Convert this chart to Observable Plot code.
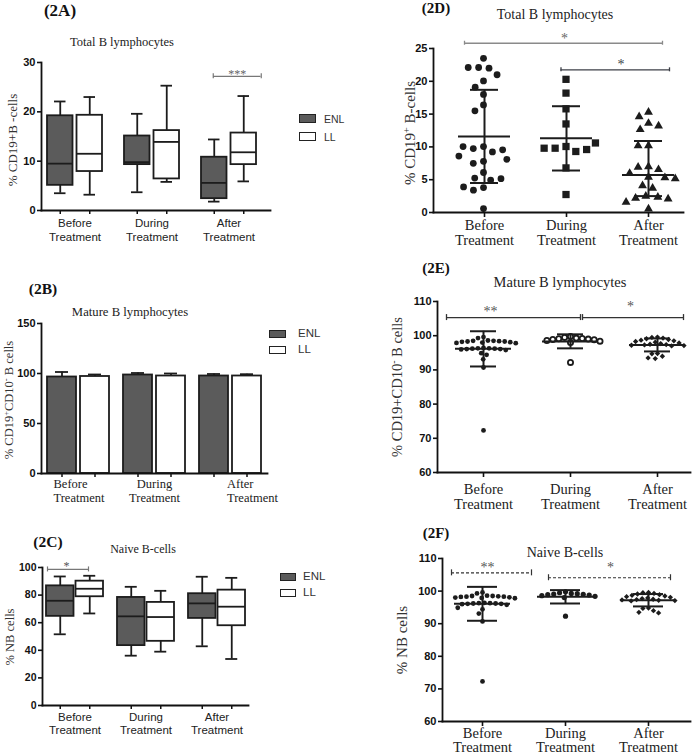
<!DOCTYPE html>
<html><head><meta charset="utf-8">
<script src="https://cdn.jsdelivr.net/npm/d3@7"></script>
<script src="https://cdn.jsdelivr.net/npm/@observablehq/plot@0.6"></script>
<style>
html,body{margin:0;padding:0;background:#fff;}
#root{position:relative;width:699px;height:754px;overflow:hidden;background:#fff;}
.lab{position:absolute;white-space:nowrap;transform:translate(-50%,-50%);line-height:1;color:#222;}
.rot{position:absolute;white-space:nowrap;transform:translate(-50%,-50%) rotate(-90deg);line-height:1;color:#333;}
.leg{position:absolute;white-space:nowrap;transform:translate(0,-50%);line-height:1;color:#333;}
.sw{position:absolute;box-sizing:border-box;border:1.6px solid #222;}
sup{font-size:0.68em;line-height:0;vertical-align:0.45em;}
</style></head><body><div id="root"></div>
<script>
// ---------------- DATA ----------------
const treatments = ["Before", "During", "After"];
const seriesNames = ["ENL", "LL"];
const boxGroup = ["Before", "Before", "During", "During", "After", "After"];
const boxSeries = ["ENL", "LL", "ENL", "LL", "ENL", "LL"];

// (2A) Total B lymphocytes, % CD19+ B cells (box: min, q1, median, q3, max)
const a_min = [3.5, 3.2, 3.7, 5.8, 1.8, 5.9];
const a_q1  = [5.1, 7.9, 9.3, 6.4, 2.4, 9.3];
const a_med = [9.5, 11.5, 9.8, 13.9, 5.6, 11.8];
const a_q3  = [19.2, 19.3, 15.1, 16.2, 10.8, 15.7];
const a_max = [22.1, 23.0, 19.6, 25.3, 14.4, 23.2];
const a_sigFrom = ["After"], a_sigTo = ["After"], a_sigY = [27.2], a_sigText = ["***"];

// (2B) Mature B lymphocytes, mean and SD
const b_mean = [96.5, 97.0, 98.5, 97.5, 97.5, 97.5];
const b_sd   = [5.0, 2.0, 2.0, 2.5, 2.0, 1.8];

// (2C) Naive B-cells, % NB cells (box)
const c_min = [51.6, 66.7, 36.1, 39.0, 42.9, 33.7];
const c_q1  = [64.6, 78.8, 43.4, 46.5, 63.1, 57.8];
const c_med = [75.9, 84.6, 64.6, 64.1, 74.0, 71.6];
const c_q3  = [86.7, 90.1, 78.3, 74.7, 81.0, 83.6];
const c_max = [93.5, 94.0, 86.0, 83.1, 93.3, 92.5];
const c_sigFrom = ["Before"], c_sigTo = ["Before"], c_sigY = [98.6], c_sigText = ["*"];

// (2D) Total B lymphocytes, individual values
const d_before = [23.5, 22.1, 22.0, 22.1, 21.0, 20.05, 19.1, 18.0, 16.4, 15.5, 10.05, 9.75, 9.24, 9.55, 10.05, 8.6, 7.8, 7.5, 8.1, 6.1, 5.25, 4.95, 5.15, 3.8, 3.4, 3.9, 0.6];
const d_during = [20.3, 18.2, 15.8, 13.5, 10.06, 9.8, 9.3, 9.6, 9.8, 10.6, 6.8, 2.74];
const d_after  = [15.3, 14.6, 13.6, 13.2, 12.65, 10.2, 10.2, 6.99, 6.9, 6.55, 5.98, 5.4, 5.3, 5.15, 4.1, 3.7, 2.5, 2.33, 2.2, 2.08, 1.57, 0.56];
const d_center = [11.6, 11.3, 5.7];
const d_lo = [4.5, 6.4, 2.5];
const d_hi = [18.7, 16.2, 10.9];
const d_sigFrom = ["Before", "During"], d_sigTo = ["After", "After"], d_sigY = [25.8, 21.75], d_sigText = ["*", "*"];

// (2E) Mature B lymphocytes, individual values
const e_before = [99.6, 99.3, 98.6, 98.5, 98.5, 98.4, 98.3, 98.3, 98.2, 98.1, 98.0, 97.9, 97.8, 96.4, 96.3, 96.3, 96.2, 96.2, 96.1, 96.1, 96.0, 95.8, 94.9, 94.4, 93.1, 90.7, 72.3];
const e_during = [99.8, 99.5, 99.3, 99.2, 99.1, 99.0, 98.9, 98.8, 98.6, 98.4, 98.0, 92.2];
const e_after  = [99.6, 99.5, 99.3, 99.1, 98.9, 98.7, 98.5, 98.3, 98.1, 97.9, 97.7, 97.5, 97.4, 97.3, 97.2, 97.1, 97.0, 94.8, 94.7, 94.0, 93.5, 93.3];
const e_center = [96.2, 98.3, 97.3];
const e_lo = [91.0, 96.3, 95.4];
const e_hi = [101.3, 100.4, 99.2];
const e_sigFrom = ["Before", "During"], e_sigTo = ["During", "After"], e_sigY = [105.3, 105.3], e_sigText = ["**", "*"];

// (2F) Naive B-cells, individual values
const f_before = [99.6, 99.3, 98.6, 98.5, 98.5, 98.4, 98.3, 98.3, 98.2, 98.1, 98.0, 97.9, 97.8, 96.4, 96.3, 96.3, 96.2, 96.2, 96.1, 96.1, 96.0, 95.8, 94.9, 94.4, 93.1, 90.7, 72.3];
const f_during = [99.8, 99.5, 99.3, 99.2, 99.1, 99.0, 98.9, 98.8, 98.6, 98.4, 98.0, 92.3];
const f_after  = [99.6, 99.5, 99.3, 99.1, 98.9, 98.7, 98.5, 98.3, 98.1, 97.9, 97.7, 97.5, 97.4, 97.3, 97.2, 97.1, 97.0, 94.8, 94.7, 94.0, 93.5, 93.3];
const f_center = [96.1, 98.3, 97.2];
const f_lo = [90.9, 96.2, 95.3];
const f_hi = [101.3, 100.3, 99.1];
const f_sigFrom = ["Before", "During"], f_sigTo = ["Before", "After"], f_sigY = [105.6, 104.1], f_sigText = ["**", "*"];

// ---------------- STYLE / LAYOUT ----------------
const SANS = "'Liberation Sans', Arial, Helvetica, sans-serif";
const SERIF = "'Liberation Serif', 'Times New Roman', Times, serif";
const ENL_FILL = "#5b5b5b";
const INK = "#1c1c1c";
const root = document.getElementById("root");

function bandOpts(r0, r1, c0, step, bw, n = 3) {
  const pi = 1 - bw / step;
  const po = ((r1 - r0) / step - n + pi) / 2;
  const align = (c0 - r0 - bw / 2) / ((r1 - r0) - step * (n - pi));
  return {paddingInner: pi, paddingOuter: Math.max(0, po), align: Math.max(0, Math.min(1, align))};
}

function bracketMarks(from, to, ys, texts, styles, bw, o) {
  const out = [];
  from.forEach((f, i) => {
    const s = styles[i];
    const stroke = s.stroke || o.stroke, color = s.color || o.color;
    const row = [{from: f, to: to[i], y: ys[i], label: texts[i]}];
    out.push(Plot.ruleY(row, {x1: "from", x2: "to", y: "y", insetLeft: bw / 2 + s.l, insetRight: bw / 2 - s.r,
      stroke, strokeWidth: o.sw, strokeDasharray: o.dash}));
    out.push(Plot.ruleX(row, {x: "from", y1: "y", y2: "y", dx: s.l, insetTop: -o.cap, insetBottom: -o.cap, stroke, strokeWidth: o.sw}));
    out.push(Plot.ruleX(row, {x: "to", y1: "y", y2: "y", dx: s.r, insetTop: -o.cap, insetBottom: -o.cap, stroke, strokeWidth: o.sw}));
    out.push(Plot.text(row, {x: "from", y: "y", text: "label", dx: s.t, dy: s.dy, fontFamily: SERIF, fontSize: o.fs, fill: color}));
  });
  return out;
}

function frameAxes(yTicks, fs) {
  return [
    Plot.axisY({ticks: yTicks, tickSize: 4, tickPadding: 2, fontSize: fs, fontWeight: "bold", fontFamily: SANS, strokeWidth: 1.6, stroke: "#111", fill: "#111", label: null}),
    Plot.frame({anchor: "left", strokeWidth: 1.8, stroke: "#111"}),
    Plot.frame({anchor: "bottom", strokeWidth: 1.8, stroke: "#111"})
  ];
}

function boxRows(mins, q1s, meds, q3s, maxs) {
  return boxGroup.map((g, i) => ({group: g, series: boxSeries[i], min: mins[i], q1: q1s[i], med: meds[i], q3: q3s[i], max: maxs[i]}));
}

function panelPlot(cfg, marks) {
  return Plot.plot({
    width: cfg.W, height: cfg.H,
    marginLeft: cfg.x0 - cfg.L, marginRight: cfg.L + cfg.W - cfg.x1,
    marginTop: cfg.yTop - cfg.T, marginBottom: cfg.T + cfg.H - cfg.yBot,
    x: {type: "band", domain: treatments, ...bandOpts(cfg.x0, cfg.x1, cfg.c0, cfg.step, cfg.bw)},
    y: {domain: cfg.yDomain},
    style: {fontFamily: SANS, fontSize: "11px", color: INK, background: "transparent", overflow: "visible"},
    marks
  });
}

function boxPanel(cfg, rows, kind) {
  const off = cfg.bw / 2 - cfg.boxW / 2;
  const ins = cfg.bw - cfg.boxW;
  const capIns = cfg.boxW / 2 - cfg.capW / 2;
  const marks = [];
  for (const [name, sgn, fill] of [["ENL", -1, ENL_FILL], ["LL", 1, "white"]]) {
    const data = rows.filter(d => d.series === name);
    const insL = sgn < 0 ? 0 : ins, insR = sgn < 0 ? ins : 0;
    const line = {stroke: INK, strokeWidth: 1.8};
    if (kind === "box") {
      marks.push(Plot.ruleX(data, {x: "group", y1: "min", y2: "max", dx: sgn * off, ...line}));
      marks.push(Plot.tickY(data, {x: "group", y: "min", insetLeft: insL + capIns, insetRight: insR + capIns, ...line}));
      marks.push(Plot.tickY(data, {x: "group", y: "max", insetLeft: insL + capIns, insetRight: insR + capIns, ...line}));
      marks.push(Plot.barY(data, {x: "group", y1: "q1", y2: "q3", insetLeft: insL, insetRight: insR, fill, ...line}));
      marks.push(Plot.tickY(data, {x: "group", y: "med", insetLeft: insL, insetRight: insR, ...line}));
    } else {
      marks.push(Plot.ruleX(data, {x: "group", y1: "mean", y2: d => d.mean + d.sd, dx: sgn * off, ...line}));
      marks.push(Plot.tickY(data, {x: "group", y: d => d.mean + d.sd, insetLeft: insL + capIns, insetRight: insR + capIns, ...line}));
      marks.push(Plot.barY(data, {x: "group", y: "mean", insetLeft: insL, insetRight: insR, fill, ...line}));
    }
    marks.push(Plot.axisX({tickSize: 4, fill: "none", dx: sgn * off, strokeWidth: 1.5, stroke: "#111", label: null}));
  }
  const labOpts = {tickSize: 0, tickPadding: cfg.labPad, tickFormat: d => d + "\nTreatment",
    fontFamily: cfg.xFont, fontSize: cfg.xSize, lineHeight: cfg.xLH, fill: "#222", label: null};
  if (cfg.xLabels) {
    cfg.xLabels.forEach(xl => marks.push(Plot.axisX({...labOpts, ticks: [xl.t], textAnchor: xl.anchor, dx: xl.dx})));
  } else {
    marks.push(Plot.axisX(labOpts));
  }
  if (cfg.sig) marks.push(...bracketMarks(...cfg.sig, cfg.sigStyle, cfg.bw, cfg.sigOpts));
  marks.push(...frameAxes(cfg.yTicks, cfg.yFs));
  return panelPlot(cfg, marks);
}

function scatterPanel(cfg, groupsValues, center, lo, hi) {
  const band = bandOpts(cfg.x0, cfg.x1, cfg.c0, cfg.step, cfg.bw);
  // same band geometry as the plot's x scale, to center each dodged group on its band
  const xs = d3.scaleBand(treatments, [cfg.x0, cfg.x1]).paddingInner(band.paddingInner).paddingOuter(band.paddingOuter).align(band.align);
  const mid = (cfg.x0 + cfg.x1) / 2;
  const marks = [];
  groupsValues.forEach((vals, i) => {
    const g = treatments[i];
    const st = cfg.dots[i];
    const data = vals.map(v => ({group: g, v}));
    // Plot adds half a bandwidth to marks with an x channel on a band x scale, so the shift is taken from the band start
    marks.push(Plot.dot(data, Plot.dodgeX({anchor: "middle", padding: st.pad},
      {y: "v", r: st.r, symbol: st.symbol, fill: st.fill, stroke: st.stroke || "none", strokeWidth: st.sw || 0,
       dx: xs(g) - mid})));
  });
  const stats = treatments.map((g, i) => ({group: g, c: center[i], lo: lo[i], hi: hi[i]}));
  const line = {stroke: INK, strokeWidth: 2};
  const mIns = (cfg.bw - cfg.meanW) / 2, cIns = (cfg.bw - cfg.capW) / 2;
  marks.push(Plot.ruleX(stats, {x: "group", y1: "lo", y2: "hi", ...line}));
  marks.push(Plot.tickY(stats, {x: "group", y: "c", inset: mIns, ...line}));
  marks.push(Plot.tickY(stats, {x: "group", y: "lo", inset: cIns, ...line}));
  marks.push(Plot.tickY(stats, {x: "group", y: "hi", inset: cIns, ...line}));
  marks.push(...bracketMarks(...cfg.sig, cfg.sigStyle, cfg.bw, cfg.sigOpts));
  marks.push(Plot.axisX({tickSize: 5, tickPadding: cfg.labPad, strokeWidth: 1.6, stroke: "#111", tickFormat: d => d + "\nTreatment",
    fontFamily: SERIF, fontSize: cfg.xSize, lineHeight: cfg.xLH, fill: "#222", label: null}));
  marks.push(...frameAxes(cfg.yTicks, cfg.yFs));
  return panelPlot(cfg, marks);
}

function place(svg, L, T) {
  svg.style.position = "absolute"; svg.style.left = L + "px"; svg.style.top = T + "px";
  root.appendChild(svg);
}
function addLabel(cls, html, x, y, css) {
  const d = document.createElement("div");
  d.className = cls; d.innerHTML = html;
  d.style.left = x + "px"; d.style.top = y + "px";
  Object.assign(d.style, css || {});
  root.appendChild(d);
}
function addLegend(x, y1, y2, w, h, textX, fs) {
  [[seriesNames[0], ENL_FILL, y1], [seriesNames[1], "#fff", y2]].forEach(([name, fill, cy]) => {
    const s = document.createElement("div");
    s.className = "sw";
    Object.assign(s.style, {left: x + "px", top: (cy - h / 2) + "px", width: w + "px", height: h + "px", background: fill});
    root.appendChild(s);
    addLabel("leg", name, textX, cy, {fontFamily: SANS, fontSize: fs + "px"});
  });
}

// ---------------- PANELS ----------------
// 2A
const cfgA = {L: 0, T: 50, W: 350, H: 200, x0: 41, x1: 270, yTop: 62, yBot: 210, yDomain: [0, 30], yTicks: [0, 10, 20, 30], yFs: 11,
  c0: 74.75, step: 77.5, bw: 55.5, boxW: 26, capW: 12, labPad: 7, xFont: SANS, xSize: 11.5, xLH: 1.2,
  sig: [a_sigFrom, a_sigTo, a_sigY, a_sigText], sigStyle: [{l: -15.75, r: 32.25, t: 8.25, dy: -2}],
  sigOpts: {stroke: "#777777", sw: 1.2, cap: 2.5, fs: 12, color: "#666666"}};
place(boxPanel(cfgA, boxRows(a_min, a_q1, a_med, a_q3, a_max), "box"), cfgA.L, cfgA.T);

// 2B
const b_rows = boxGroup.map((g, i) => ({group: g, series: boxSeries[i], mean: b_mean[i], sd: b_sd[i]}));
const cfgB = {L: 0, T: 300, W: 350, H: 210, x0: 41, x1: 267, yTop: 323, yBot: 473, yDomain: [0, 150], yTicks: [0, 50, 100, 150], yFs: 11,
  c0: 77, step: 76.5, bw: 62, boxW: 29, capW: 13, labPad: 5, xFont: SERIF, xSize: 12.5, xLH: 1.12,
  xLabels: [{t: "Before", anchor: "start", dx: -25}, {t: "During", anchor: "middle", dx: 0}, {t: "After", anchor: "start", dx: -3.5}]};
place(boxPanel(cfgB, b_rows, "bar"), cfgB.L, cfgB.T);

// 2C
const cfgC = {L: 0, T: 550, W: 350, H: 190, x0: 42, x1: 248, yTop: 567, yBot: 705, yDomain: [0, 100], yTicks: [0, 20, 40, 60, 80, 100], yFs: 10.5,
  c0: 73.5, step: 71.5, bw: 57, boxW: 27.5, capW: 12, labPad: 7, xFont: SANS, xSize: 11.5, xLH: 1.1,
  sig: [c_sigFrom, c_sigTo, c_sigY, c_sigText], sigStyle: [{l: -27.5, r: 13.5, t: -8.5, dy: -3}],
  sigOpts: {stroke: "#777777", sw: 1.2, cap: 2.5, fs: 12, color: "#555555"}};
place(boxPanel(cfgC, boxRows(c_min, c_q1, c_med, c_q3, c_max), "box"), cfgC.L, cfgC.T);

// 2D
const cfgD = {L: 350, T: 30, W: 349, H: 218, x0: 433, x1: 683, yTop: 48, yBot: 212, yDomain: [0, 25], yTicks: [0, 5, 10, 15, 20, 25], yFs: 11,
  c0: 483, step: 82.5, bw: 60, meanW: 52, capW: 28, labPad: 2, xSize: 14.5, xLH: 1.03,
  dots: [{symbol: "circle", r: 3.4, fill: INK, pad: 3.6}, {symbol: "square", r: 4.1, fill: INK, pad: 2.8}, {symbol: "triangle", r: 3.3, fill: INK, pad: 3.8}],
  sig: [d_sigFrom, d_sigTo, d_sigY, d_sigText], sigStyle: [{l: -20, r: 14, t: 80, dy: -4.5, stroke: "#8a8a8a", color: "#666666"}, {l: -5.5, r: 21, t: 54.5, dy: -5.5, stroke: "#3c3f47", color: "#3c3f47"}],
  sigOpts: {stroke: "#8a8a8a", sw: 1.3, cap: 2, fs: 14, color: "#666666"}};
place(scatterPanel(cfgD, [d_before, d_during, d_after], d_center, d_lo, d_hi), cfgD.L, cfgD.T);

// 2E
const cfgE = {L: 350, T: 288, W: 349, H: 222, x0: 437, x1: 690, yTop: 301, yBot: 472, yDomain: [60, 110], yTicks: [60, 70, 80, 90, 100, 110], yFs: 11,
  c0: 483, step: 87, bw: 62, meanW: 56, capW: 26, labPad: 6, xSize: 14.5, xLH: 1.03,
  dots: [{symbol: "circle", r: 2.4, fill: INK, pad: 0.8}, {symbol: "circle", r: 2.6, fill: "white", stroke: INK, sw: 1.8, pad: 0.8}, {symbol: "diamond2", r: 2.4, fill: INK, pad: 0.8}],
  sig: [e_sigFrom, e_sigTo, e_sigY, e_sigText], sigStyle: [{l: -37, r: 10, t: 7, dy: -6.5}, {l: 12, r: 26, t: 60, dy: -11.5}],
  sigOpts: {stroke: "#333333", sw: 1.3, cap: 3, fs: 14, color: "#555555"}};
place(scatterPanel(cfgE, [e_before, e_during, e_after], e_center, e_lo, e_hi), cfgE.L, cfgE.T);

// 2F
const cfgF = {L: 350, T: 546, W: 349, H: 208, x0: 442, x1: 690, yTop: 558, yBot: 721, yDomain: [60, 110], yTicks: [60, 70, 80, 90, 100, 110], yFs: 11,
  c0: 482, step: 83, bw: 64, meanW: 56, capW: 30, labPad: 1, xSize: 14.5, xLH: 1.0,
  dots: [{symbol: "circle", r: 2.4, fill: INK, pad: 0.8}, {symbol: "circle", r: 2.6, fill: INK, pad: 0.8}, {symbol: "diamond2", r: 2.4, fill: INK, pad: 0.8}],
  sig: [f_sigFrom, f_sigTo, f_sigY, f_sigText], sigStyle: [{l: -31, r: 49, t: 5, dy: -5.5}, {l: -17, r: 22, t: 45, dy: -10.5}],
  sigOpts: {stroke: "#333333", sw: 1.2, cap: 3, fs: 14, color: "#555555", dash: "3,2"}};
place(scatterPanel(cfgF, [f_before, f_during, f_after], f_center, f_lo, f_hi), cfgF.L, cfgF.T);

// ---------------- TEXT: panel labels, titles, axis titles, legends ----------------
const bold = (fs) => ({fontFamily: SERIF, fontWeight: "bold", fontSize: fs + "px", color: "#111"});
const serif = (fs) => ({fontFamily: SERIF, fontSize: fs + "px"});
addLabel("lab", "(2A)", 60, 10, bold(17));
addLabel("lab", "(2B)", 43, 289, bold(15.5));
addLabel("lab", "(2C)", 48, 542, bold(15.5));
addLabel("lab", "(2D)", 436, 8, bold(15));
addLabel("lab", "(2E)", 436, 268, bold(15));
addLabel("lab", "(2F)", 436, 533, bold(15));

addLabel("lab", "Total B lymphocytes", 122, 42, serif(12.5));
addLabel("lab", "Mature B lymphocytes", 130, 312, serif(12.7));
addLabel("lab", "Naive B-cells", 143, 549, serif(12));
addLabel("lab", "Total B lymphocytes", 555, 15, serif(14));
addLabel("lab", "Mature B lymphocytes", 560, 282, serif(14.5));
addLabel("lab", "Naive B-cells", 565, 553, serif(14));

addLabel("rot", "% CD19+B -cells", 12, 140, serif(13));
addLabel("rot", "% CD19<sup>+</sup>CD10<sup>-</sup> B cells", 9, 400, serif(12.5));
addLabel("rot", "% NB cells", 10, 637, serif(12.5));
addLabel("rot", "% CD19<sup>+</sup> B-cells", 410, 133, serif(15));
addLabel("rot", "% CD19+CD10<sup>-</sup> B cells", 397, 387, serif(14.5));
addLabel("rot", "% NB cells", 402, 640, serif(15));

addLegend(299, 118.5, 136.5, 17, 9.5, 324, 10.5);
addLegend(269, 334, 350, 17, 8.5, 298, 11.5);
addLegend(280, 577, 593, 16, 8.5, 303, 11.5);
</script></body></html>
